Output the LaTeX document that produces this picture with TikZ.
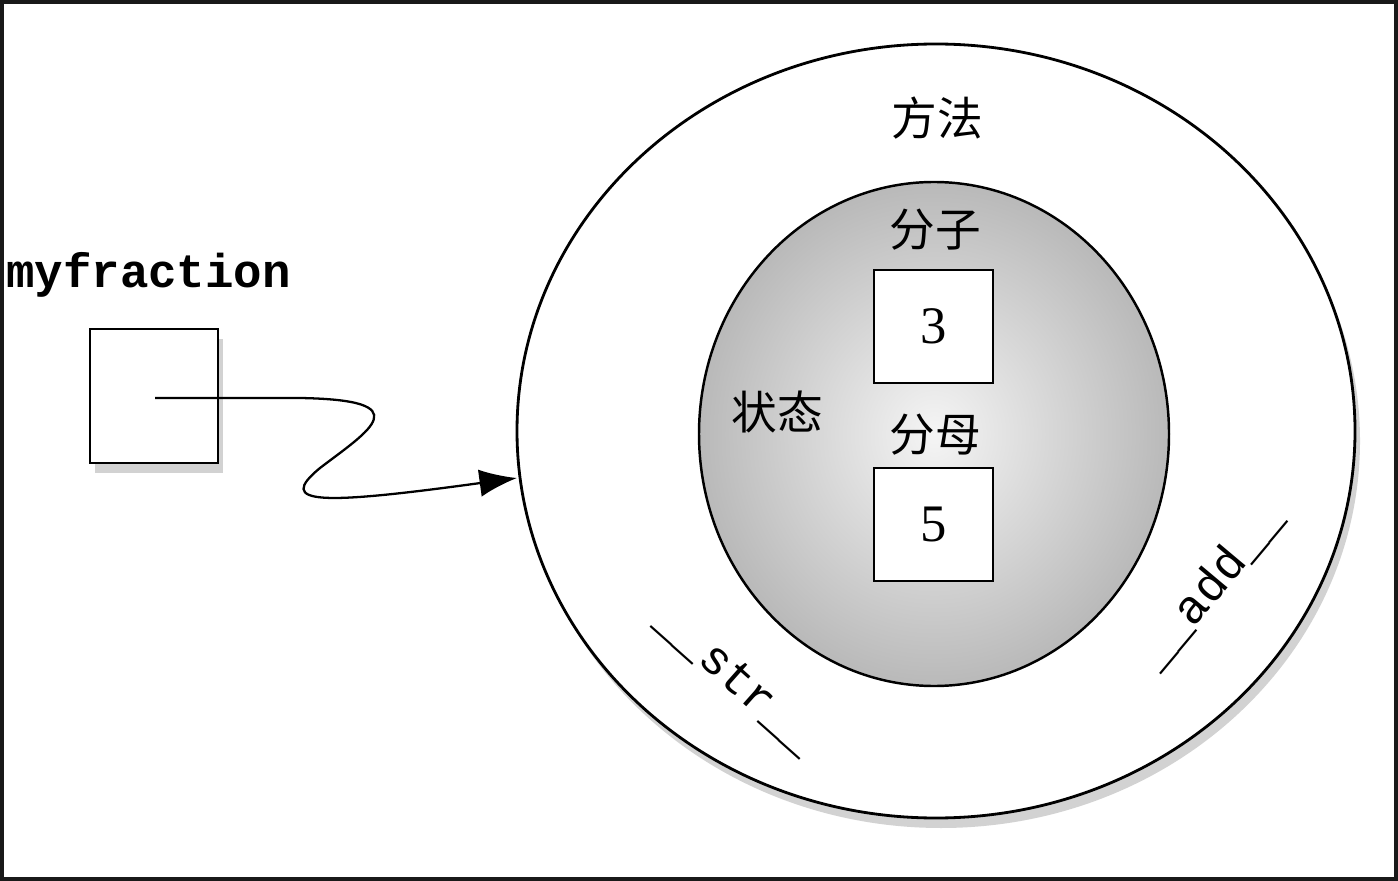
\documentclass[tikz,border=0pt]{standalone}
\usepackage{fontspec}
\setmainfont{Liberation Serif}
\newfontfamily\cjk{Noto Sans CJK SC}
\newfontfamily\mono{Liberation Mono}
\usetikzlibrary{shadows,arrows.meta}
\begin{document}
\begin{tikzpicture}[x=0.02cm,y=-0.02cm,
  cjklab/.style={font=\cjk\fontsize{26}{30}\selectfont},
  monolab/.style={font=\mono\bfseries\fontsize{27}{30}\selectfont},
  numlab/.style={font=\fontsize{30}{34}\selectfont},
  valbox/.style={draw,line width=1.4pt,fill=white,minimum width=2.38cm,minimum height=2.26cm,inner sep=0pt},
  shad/.style={drop shadow={shadow xshift=0.1cm,shadow yshift=-0.2cm,opacity=0.35}}]
\useasboundingbox (0,0) rectangle (1398,881);
\fill[white] (0,0) rectangle (1398,881);
\draw[line width=3pt,black!90] (1,1) rectangle (1397,880);
% outer ellipse
\fill[white,shad] (936,431) ellipse [x radius=419,y radius=387];
\draw[line width=1.6pt] (936,431) ellipse [x radius=419,y radius=387];
% inner ellipse
\shade[inner color=white!92!gray,outer color=gray!55] (934,434) ellipse [x radius=235,y radius=252];
\draw[line width=1.4pt] (934,434) ellipse [x radius=235,y radius=252];
\node[cjklab] (method) at (937,118) {方法};
\node[cjklab] (num) at (935,230) {分子};
\node[cjklab] (state) at (777,412) {状态};
\node[cjklab] (den) at (935,435) {分母};
\node[valbox,numlab] (three) at (933.5,326.5) {3};
\node[valbox,numlab] (five) at (933.5,524.5) {5};
\node[font=\mono\fontsize{27}{30}\selectfont,rotate=-41.6] (str) at (737,680) {\_\_str\_\_};
\node[font=\mono\fontsize{27}{30}\selectfont,rotate=50] (add) at (1210,586) {\_\_add\_\_};
% variable
\node[monolab,anchor=west] (name) at (0,275) {myfraction};
\node[draw,line width=1.4pt,fill=white,minimum width=2.56cm,minimum height=2.68cm,inner sep=0pt,shad] (var) at (154,396) {};
\coordinate (start) at (155,398);
\coordinate (tip) at (517,478);
\draw[line width=1.3pt,-{Latex[length=0.75cm,width=0.55cm]}] (start) -- (300,398)
  .. controls (420,400) and (370,430) .. (320,468)
  .. controls (275,505) and (320,505) .. (tip);
\end{tikzpicture}
\end{document}
